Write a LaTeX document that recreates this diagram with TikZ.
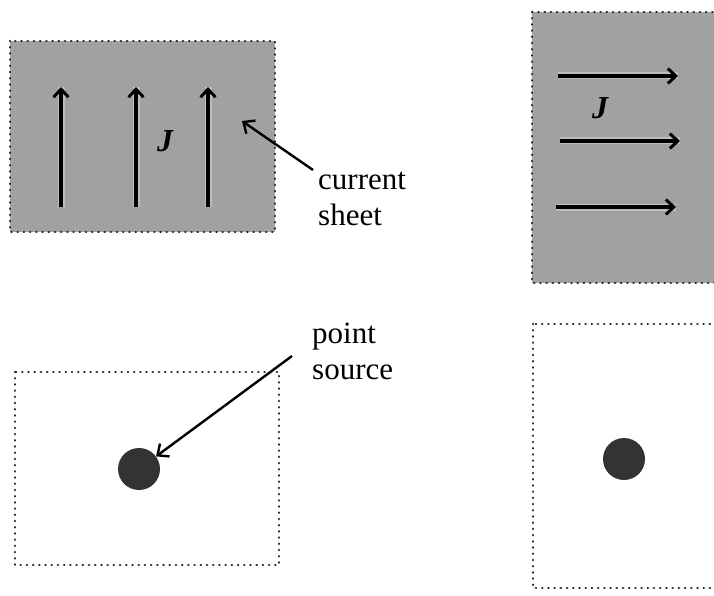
\documentclass[tikz,border=0pt]{standalone}
\usepackage{fontspec}
\setmainfont{Liberation Serif}
\usetikzlibrary{arrows.meta}
\begin{document}
\begin{tikzpicture}[x=1pt,y=-1pt,
  sheet/.style={fill=black!37, draw=black!90, line width=2.8pt, line cap=round, dash pattern=on 0.01pt off 6.2pt},
  emptybox/.style={draw=black!90, line width=2.8pt, line cap=round, dash pattern=on 0.01pt off 6.2pt},
  jarrow/.style={line width=3.4pt, -{Straight Barb[length=8pt,width=15pt,line width=3pt]}, preaction={draw=white, line width=7pt, opacity=0.3, -}},
  leader/.style={line width=2.4pt, -{Straight Barb[length=9pt,width=16pt,line width=2.4pt]}},
  lbl/.style={font=\fontsize{31}{36}\selectfont, align=left, anchor=north west, inner sep=0pt},
  jlbl/.style={font=\fontsize{32}{34}\selectfont\bfseries\itshape, inner sep=0pt},
  dot/.style={circle, fill=black!80, minimum size=42pt, inner sep=0pt}]
\useasboundingbox (0,0) rectangle (714,596);
% top-left current sheet
\path[sheet] (10,41) rectangle (275,232);
\coordinate (a1s) at (61,207); \coordinate (a1e) at (61,87);
\coordinate (a2s) at (136,207); \coordinate (a2e) at (136,87);
\coordinate (a3s) at (208,207); \coordinate (a3e) at (208,87);
\draw[jarrow] (a1s) -- (a1e);
\draw[jarrow] (a2s) -- (a2e);
\draw[jarrow] (a3s) -- (a3e);
\node[jlbl] (j1) at (165,141) {J};
\node[lbl] (cs) at (318,172) {current\\sheet};
\coordinate (csa) at (313,170);
\coordinate (csb) at (242,121);
\draw[leader] (csa) -- (csb);
% top-right current sheet
\path[sheet] (532,12) rectangle (730,283);
\coordinate (b1s) at (558,76); \coordinate (b1e) at (678,76);
\coordinate (b2s) at (560,141); \coordinate (b2e) at (680,141);
\coordinate (b3s) at (556,207); \coordinate (b3e) at (676,207);
\draw[jarrow] (b1s) -- (b1e);
\draw[jarrow] (b2s) -- (b2e);
\draw[jarrow] (b3s) -- (b3e);
\node[jlbl] (j2) at (600,108) {J};
% bottom-left point source
\path[emptybox] (15,372) rectangle (279,565);
\node[dot] (p1) at (139,469) {};
\node[lbl] (ps) at (312,323) {point\\source};
\coordinate (psa) at (292,356);
\draw[leader] (psa) -- (p1);
% bottom-right point source
\path[emptybox] (533,324) rectangle (730,588);
\node[dot] (p2) at (624,459) {};
\end{tikzpicture}
\end{document}
